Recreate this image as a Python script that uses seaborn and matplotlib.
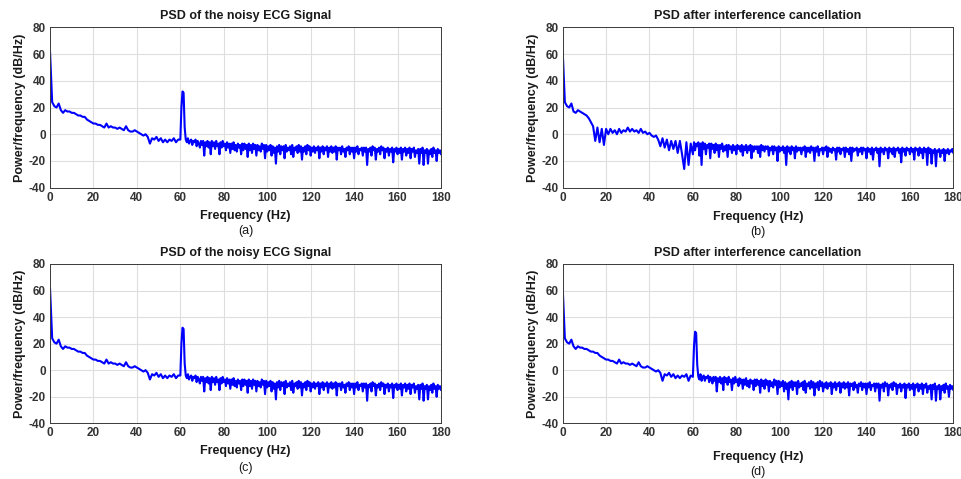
import numpy as np
import pandas as pd
import matplotlib
matplotlib.use("Agg")
import matplotlib.pyplot as plt
import seaborn as sns

# Frequency grid (Hz): 1 Hz steps up to 60 Hz, then 0.5 Hz steps up to 180 Hz
freq = list(range(0, 61)) + [60.5 + 0.5 * k for k in range(240)]

# PSD of the noisy ECG signal (dB/Hz) - panels (a) and (c)
psd_noisy = [
    62, 24, 21, 20, 23, 18, 16, 18, 17, 17,
    16, 16, 15, 14, 14, 13, 13, 11, 10, 9,
    8, 8, 7, 7, 6, 5, 8, 5, 6, 5,
    5, 4, 5, 4, 3, 6, 3, 2, 2, 3,
    2, 1, 0, -1, 0, -2, -7, -3, -4, -2,
    -5, -3, -6, -4, -6, -4, -5, -3, -6, -4,
    -4,
    # 60.5 .. 180 (0.5 Hz)
    20, 32, 31, 5, -4, -6, -3, -7, -5, -4,
    -8, -5, -6, -4, -9, -5, -7, -10, -5, -8,
    -5, -16, -6, -9, -5, -10, -6, -15, -5, -9,
    -6, -11, -5, -9, -7, -15, -6, -10, -5, -9,
    -7, -12, -6, -10, -7, -14, -7, -11, -6, -12,
    -8, -13, -7, -10, -8, -15, -7, -12, -7, -11,
    -8, -17, -7, -12, -8, -14, -7, -11, -8, -16,
    -8, -12, -9, -13, -7, -11, -8, -18, -8, -13,
    -9, -12, -8, -16, -9, -14, -10, -22, -9, -13,
    -8, -15, -9, -12, -9, -18, -8, -13, -10, -12,
    -9, -15, -8, -17, -10, -12, -9, -14, -8, -13,
    -9, -19, -10, -13, -9, -15, -8, -12, -9, -16,
    -10, -13, -9, -14, -10, -12, -9, -18, -10, -13,
    -9, -15, -10, -12, -9, -17, -10, -13, -9, -14,
    -10, -13, -9, -19, -10, -12, -10, -15, -9, -13,
    -11, -17, -10, -12, -9, -15, -10, -13, -10, -18,
    -10, -13, -9, -15, -11, -12, -10, -16, -10, -13,
    -10, -23, -11, -13, -10, -16, -9, -12, -10, -19,
    -11, -13, -10, -15, -9, -12, -10, -18, -11, -13,
    -10, -16, -11, -13, -10, -21, -11, -13, -10, -15,
    -11, -14, -10, -19, -11, -13, -10, -16, -11, -14,
    -10, -18, -11, -13, -10, -17, -12, -14, -11, -22,
    -11, -14, -10, -23, -12, -14, -11, -22, -12, -15,
    -11, -17, -10, -14, -12, -20, -11, -14, -12, -15,
]

# PSD after interference cancellation - panel (b)
psd_clean_b = [
    62, 24, 21, 20, 23, 17, 16, 18, 17, 16,
    15, 14, 12, 9, 6, -5, 5, -6, 4, -8,
    4, 0, 4, 1, 3, 0, 4, 1, 3, 2,
    5, 2, 4, 2, 3, 1, 4, 1, 2, 0,
    1, -1, -2, -1, -4, -9, -3, -10, -4, -12,
    -5, -11, -5, -14, -5, -15, -26, -6, -23, -7,
    -15,
    # 60.5 .. 180 (0.5 Hz)
    -6, -12, -7, -9, -6, -16, -7, -23, -6, -11,
    -7, -15, -8, -10, -7, -18, -7, -11, -8, -14,
    -7, -12, -8, -17, -8, -11, -7, -13, -9, -12,
    -8, -17, -8, -11, -9, -14, -8, -12, -9, -15,
    -8, -11, -9, -13, -8, -16, -9, -12, -8, -14,
    -9, -12, -8, -18, -9, -13, -9, -11, -9, -14,
    -9, -17, -8, -12, -9, -13, -9, -11, -9, -16,
    -10, -12, -9, -15, -9, -12, -10, -20, -9, -13,
    -10, -12, -9, -14, -10, -23, -9, -13, -10, -15,
    -9, -12, -10, -18, -9, -13, -10, -12, -10, -15,
    -10, -12, -9, -17, -10, -13, -10, -14, -9, -12,
    -10, -20, -10, -13, -9, -16, -11, -12, -10, -15,
    -10, -12, -9, -17, -10, -13, -11, -14, -10, -12,
    -11, -19, -10, -13, -10, -15, -11, -12, -10, -17,
    -10, -13, -11, -15, -10, -20, -10, -13, -11, -12,
    -10, -16, -11, -13, -10, -15, -10, -12, -11, -18,
    -10, -13, -11, -15, -10, -19, -11, -12, -10, -14,
    -11, -24, -10, -13, -11, -15, -10, -12, -11, -18,
    -10, -13, -11, -15, -10, -17, -11, -12, -10, -14,
    -11, -21, -10, -13, -11, -16, -10, -12, -11, -15,
    -10, -13, -11, -19, -10, -12, -11, -16, -10, -14,
    -11, -18, -10, -13, -11, -23, -10, -14, -11, -22,
    -12, -14, -11, -24, -12, -13, -11, -17, -12, -14,
    -11, -20, -12, -14, -11, -15, -12, -13, -11, -14,
]

# PSD after interference cancellation - panel (d)
psd_clean_d = [
    62, 24, 21, 20, 23, 18, 16, 18, 17, 17,
    16, 16, 15, 14, 14, 13, 13, 11, 10, 9,
    8, 8, 7, 7, 6, 5, 8, 5, 6, 5,
    5, 4, 5, 4, 3, 6, 3, 2, 2, 3,
    2, 1, 0, -1, 0, -2, -8, -3, -4, -2,
    -5, -3, -6, -4, -6, -4, -5, -3, -8, -4,
    -5,
    # 60.5 .. 180 (0.5 Hz)
    18, 29, 28, 4, -5, -7, -3, -8, -5, -4,
    -8, -5, -6, -4, -9, -5, -7, -10, -5, -8,
    -5, -16, -6, -9, -5, -10, -6, -15, -5, -9,
    -6, -11, -5, -9, -7, -15, -6, -10, -5, -9,
    -7, -12, -6, -10, -7, -14, -7, -11, -6, -12,
    -8, -13, -7, -10, -8, -15, -7, -12, -7, -11,
    -8, -17, -7, -12, -8, -14, -7, -11, -8, -16,
    -8, -12, -9, -13, -7, -11, -8, -18, -8, -13,
    -9, -12, -8, -16, -9, -14, -10, -22, -9, -13,
    -8, -15, -9, -12, -9, -18, -8, -13, -10, -12,
    -9, -15, -8, -17, -10, -12, -9, -14, -8, -13,
    -9, -19, -10, -13, -9, -15, -8, -12, -9, -16,
    -10, -13, -9, -14, -10, -12, -9, -18, -10, -13,
    -9, -15, -10, -12, -9, -17, -10, -13, -9, -14,
    -10, -13, -9, -19, -10, -12, -10, -15, -9, -13,
    -11, -17, -10, -12, -9, -15, -10, -13, -10, -18,
    -10, -13, -9, -15, -11, -12, -10, -16, -10, -13,
    -10, -23, -11, -13, -10, -16, -9, -12, -10, -19,
    -11, -13, -10, -15, -9, -12, -10, -18, -11, -13,
    -10, -16, -11, -13, -10, -21, -11, -13, -10, -15,
    -11, -14, -10, -19, -11, -13, -10, -16, -11, -14,
    -10, -18, -11, -13, -10, -17, -12, -14, -11, -22,
    -11, -14, -10, -23, -12, -14, -11, -22, -12, -15,
    -11, -17, -10, -14, -12, -20, -11, -14, -12, -15,
]

titles = ["PSD of the noisy ECG Signal", "PSD after interference cancellation",
          "PSD of the noisy ECG Signal", "PSD after interference cancellation"]
panel_labels = ["(a)", "(b)", "(c)", "(d)"]
series = [psd_noisy, psd_clean_b, psd_noisy, psd_clean_d]
xticks = [0, 20, 40, 60, 80, 100, 120, 140, 160, 180]
yticks = [-40, -20, 0, 20, 40, 60, 80]

sns.set_theme(style="whitegrid")
plt.rcParams["font.family"] = ["Liberation Sans", "DejaVu Sans"]
plt.rcParams["font.weight"] = "bold"
plt.rcParams["axes.unicode_minus"] = False

W, H = 962, 479
fig = plt.figure(figsize=(W / 100, H / 100), dpi=100)

# axes boxes in pixels: left, top, right, bottom
boxes = [(50, 27.3, 441, 187.7), (562.7, 27.3, 953.3, 187.7),
         (50, 264, 441, 423.3), (562.7, 264, 953.3, 423.3)]
xlabel_y = [216, 217, 451, 457]
plabel_y = [231, 232, 468, 472]

for i in range(4):
    l, t, r, b = boxes[i]
    ax = fig.add_axes([l / W, 1 - b / H, (r - l) / W, (b - t) / H])
    df = pd.DataFrame({"Frequency (Hz)": freq, "PSD": series[i]})
    sns.lineplot(data=df, x="Frequency (Hz)", y="PSD", ax=ax, color="#0000ff",
                 linewidth=1.5, estimator=None)
    ax.set_xlim(0, 180)
    ax.set_ylim(-40, 80)
    ax.set_xticks(xticks)
    ax.set_yticks(yticks)
    ax.tick_params(axis="both", labelsize=8.5, colors="#333333", direction="in",
                   length=3, width=0.6, pad=3)
    for lab in ax.get_xticklabels() + ax.get_yticklabels():
        lab.set_fontweight("bold")
    ax.grid(True, color="#dedede", linewidth=0.8)
    for sp in ax.spines.values():
        sp.set_color("#3a3a3a")
        sp.set_linewidth(0.7)
    ax.set_title(titles[i], fontsize=9, fontweight="bold", color="#1a1a1a", pad=6)
    ax.set_xlabel("")
    ax.set_ylabel("Power/frequency (dB/Hz)", fontsize=9, fontweight="bold",
                  color="#1a1a1a", labelpad=2)
    cx = (l + r) / 2 / W
    fig.text(cx, 1 - xlabel_y[i] / H, "Frequency (Hz)", ha="center", va="center",
             fontsize=9, fontweight="bold", color="#1a1a1a")
    fig.text(cx, 1 - plabel_y[i] / H, panel_labels[i], ha="center", va="center",
             fontsize=9, fontweight="normal", color="#1a1a1a")

fig.savefig("out.png", dpi=100, facecolor="white")
